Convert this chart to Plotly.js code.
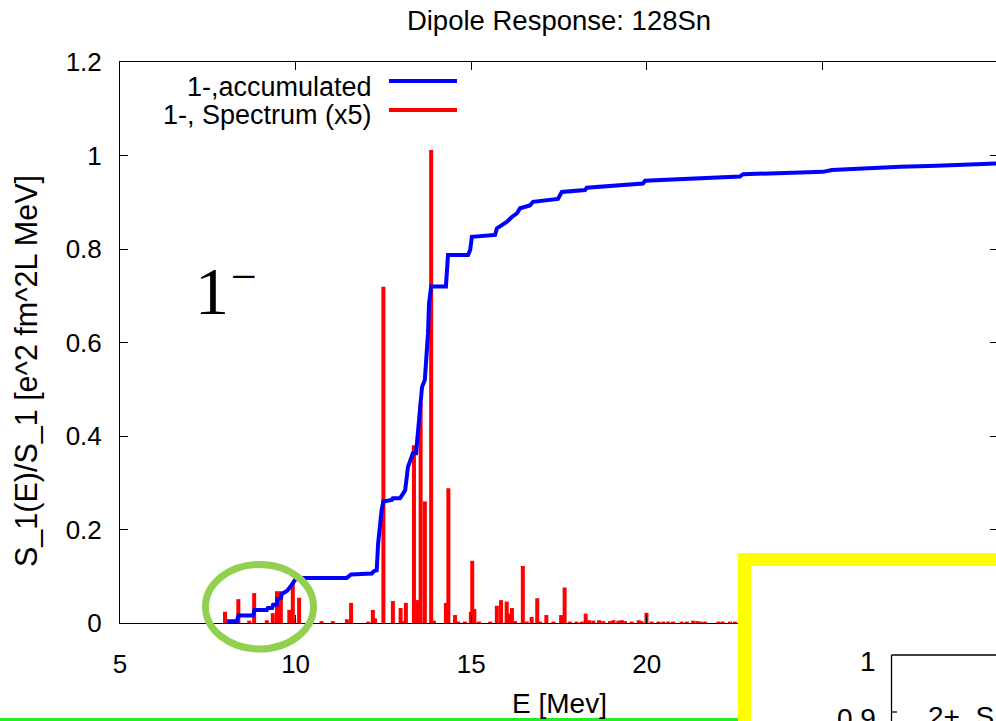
<!DOCTYPE html>
<html><head><meta charset="utf-8">
<script src="https://cdn.plot.ly/plotly-3.0.1.min.js"></script>
<style>html,body{margin:0;padding:0;overflow:hidden;background:#fff}#chart{width:1010px;height:721px}</style>
</head><body><div id="chart"></div>
<script>
// ---- data ----
const specE = [7.99,8.37,8.68,8.82,9.18,9.35,9.47,9.58,9.82,9.92,9.96,10.10,10.74,11.06,11.46,11.58,12.07,12.20,12.26,12.50,12.77,12.99,13.06,13.14,13.37,13.47,13.56,13.68,13.86,13.94,14.28,14.35,14.54,14.63,14.82,14.99,15.03,15.09,15.22,15.54,15.73,15.85,16.01,16.08,16.16,16.25,16.47,16.58,16.72,16.88,16.96,17.14,17.34,17.56,17.66,17.81,18.00,18.15,18.26,18.36,18.48,18.64,18.76,18.95,19.05,19.19,19.29,19.38,19.57,19.77,19.85,19.99,20.14,20.33,20.47,20.61,20.75,20.99,21.14,21.32,21.44,21.53,21.66,22.04,22.16,22.37,22.51,23.2,24.0,25.1,26.4];
const specS = [0.024,0.051,0.005,0.064,0.006,0.021,0.068,0.068,0.028,0.088,0.008,0.054,0.004,0.004,0.008,0.043,0.003,0.028,0.010,0.719,0.047,0.032,0.004,0.043,0.38,0.049,0.47,0.26,1.012,0.005,0.043,0.288,0.017,0.003,0.003,0.024,0.133,0.030,0.003,0.003,0.037,0.049,0.046,0.020,0.032,0.004,0.122,0.003,0.013,0.053,0.003,0.017,0.003,0.017,0.076,0.003,0.003,0.003,0.020,0.006,0.005,0.006,0.004,0.004,0.006,0.005,0.006,0.004,0.003,0.006,0.004,0.022,0.003,0.003,0.003,0.003,0.003,0.003,0.003,0.005,0.004,0.003,0.003,0.003,0.003,0.003,0.003,0.003,0.002,0.002,0.002];
const accE = [8.04,8.33,8.37,8.79,8.83,9.18,9.21,9.33,9.36,9.46,9.48,9.58,9.61,9.76,9.89,9.98,10.13,11.45,11.58,12.17,12.23,12.31,12.35,12.40,12.45,12.50,12.74,12.77,12.97,13.00,13.12,13.20,13.29,13.34,13.43,13.49,13.57,13.60,13.68,13.71,13.77,13.80,13.86,14.28,14.34,14.91,14.97,15.02,15.68,15.73,15.87,16.01,16.15,16.30,16.39,16.67,16.76,17.47,17.58,18.24,18.29,19.01,19.24,19.89,19.95,20.95,21.51,22.65,22.74,23.85,25.02,25.27,25.84,26.36,27.21,28.26,29.94,30];
const accS = [0.004,0.004,0.016,0.016,0.028,0.028,0.032,0.032,0.039,0.039,0.051,0.053,0.062,0.069,0.081,0.092,0.096,0.096,0.104,0.106,0.111,0.113,0.17,0.214,0.242,0.26,0.263,0.267,0.267,0.27,0.284,0.334,0.356,0.363,0.363,0.42,0.47,0.505,0.52,0.548,0.62,0.684,0.72,0.72,0.787,0.787,0.798,0.826,0.83,0.844,0.851,0.858,0.868,0.876,0.887,0.893,0.901,0.907,0.922,0.926,0.931,0.935,0.938,0.94,0.946,0.949,0.951,0.955,0.96,0.963,0.965,0.969,0.971,0.974,0.976,0.978,0.983,0.983];
const xTicks = [5,10,15,20,25,30];
const yTicks = [0,0.2,0.4,0.6,0.8,1,1.2];
const seriesNames = ['1-,accumulated','1-, Spectrum (x5)'];
const insetTickLabels = ['1','0.9'];

// ---- geometry helpers (pixel -> paper) ----
const W=1010,H=721,L=120,R=998,T=62,B=623,PW=R-L,PH=B-T;
const px=x=>(x-L)/PW, py=y=>(B-y)/PH;

// impulses
const ix=[],iy=[];
specE.forEach((e,i)=>{ix.push(e,e,null);iy.push(0,specS[i],null);});

const FONT='Liberation Sans, Arial, sans-serif';
const SERIF='Liberation Serif, Times New Roman, serif';
const traces=[
 {x:ix,y:iy,type:'scatter',mode:'lines',line:{color:'#ff0000',width:4},name:seriesNames[1],showlegend:false,connectgaps:false},
 {x:accE,y:accS,type:'scatter',mode:'lines',line:{color:'#0000ff',width:4},name:seriesNames[0],showlegend:false}
];

const shapes=[
 {type:'line',xref:'paper',yref:'paper',x0:px(389),x1:px(457),y0:py(81),y1:py(81),line:{color:'#0000ff',width:4}},
 {type:'line',xref:'paper',yref:'paper',x0:px(389),x1:px(457),y0:py(110),y1:py(110),line:{color:'#ff0000',width:4}},
 {type:'circle',xref:'paper',yref:'paper',x0:px(205.5),x1:px(313.5),y0:py(564.5),y1:py(649),line:{color:'#92d050',width:7},layer:'above'},
 {type:'line',xref:'paper',yref:'paper',x0:px(0),x1:px(738),y0:py(719.5),y1:py(719.5),line:{color:'#22ee22',width:3},layer:'above'},
 {type:'rect',xref:'paper',yref:'paper',x0:px(744.5),x1:px(1100),y0:py(559.5),y1:py(900),line:{color:'#ffff00',width:13},fillcolor:'#ffffff',layer:'above'},
 {type:'line',xref:'paper',yref:'paper',x0:px(891.5),x1:px(1100),y0:py(655),y1:py(655),line:{color:'#000',width:1.3},layer:'above'},
 {type:'line',xref:'paper',yref:'paper',x0:px(891.5),x1:px(891.5),y0:py(655),y1:py(800),line:{color:'#000',width:1.3},layer:'above'},
 {type:'line',xref:'paper',yref:'paper',x0:px(891.5),x1:px(897),y0:py(712),y1:py(712),line:{color:'#000',width:1.3},layer:'above'}
];

const ann=(text,x,y,xa,size,extra)=>Object.assign({text:text,xref:'paper',yref:'paper',x:px(x),y:py(y),xanchor:xa,yanchor:'middle',showarrow:false,borderpad:0,font:{family:FONT,size:size,color:'#000'}},extra||{});
const annotations=[
 ann(seriesNames[0],373,87,'right',27),
 ann(seriesNames[1],373,115,'right',27),
 ann('1',230,290.5,'right',68,{font:{family:SERIF,size:68,color:'#000'}}),
 ann('\u2212',230,276,'left',46,{font:{family:SERIF,size:46,color:'#000'}}),
 ann(insetTickLabels[0],877,661,'right',28),
 ann(insetTickLabels[1],877,718,'right',28),
 ann('2+, S',927,716,'left',28),
 ann('E [Mev]',559,703,'center',28),
 ann('S_1(E)/S_1 [e^2 fm^2L MeV]',26,371,'center',30.5,{textangle:-90})
];

const axisCommon={showline:true,linecolor:'#000',linewidth:1,mirror:'ticks',ticks:'inside',ticklen:8,tickcolor:'#000',showgrid:false,zeroline:false,tickfont:{family:FONT,size:26,color:'#000'}};
const layout={
 width:W,height:H,margin:{l:L,r:W-R,t:T,b:H-B,pad:0},
 paper_bgcolor:'#fff',plot_bgcolor:'#fff',showlegend:false,
 title:{text:'Dipole Response: 128Sn',x:0.5,xref:'paper',y:1-20/H,yref:'container',xanchor:'center',yanchor:'middle',font:{family:FONT,size:27.5,color:'#000'}},
 xaxis:Object.assign({},axisCommon,{range:[5,30],tickvals:xTicks,ticklabelstandoff:18,automargin:false}),
 yaxis:Object.assign({},axisCommon,{range:[0,1.2],tickvals:yTicks,ticklabelstandoff:12,automargin:false}),
 shapes:shapes,annotations:annotations
};
Plotly.newPlot('chart',traces,layout,{displayModeBar:false,staticPlot:true});
</script></body></html>
